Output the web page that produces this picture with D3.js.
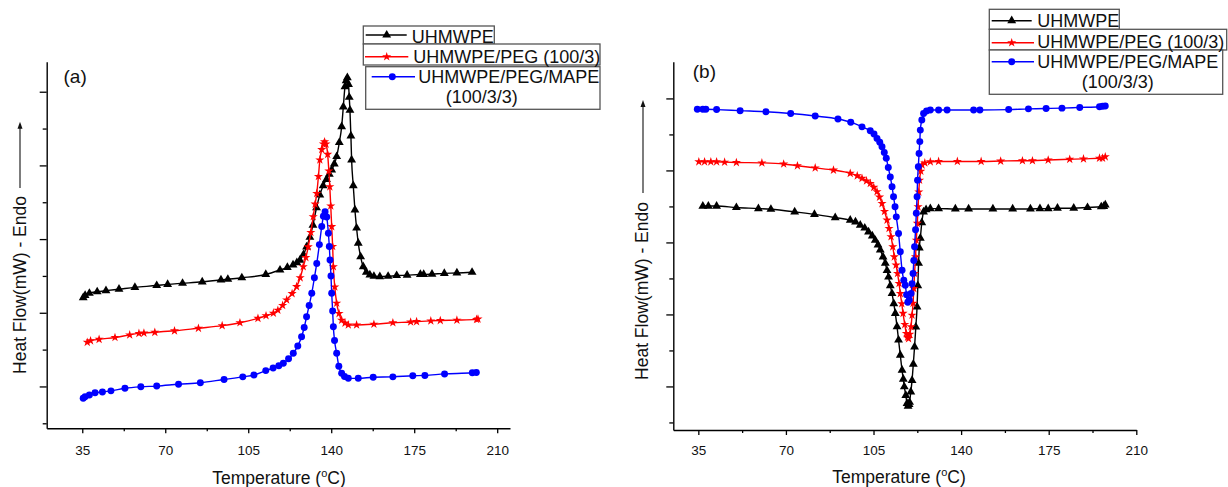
<!DOCTYPE html>
<html>
<head>
<meta charset="utf-8">
<script src="https://cdn.jsdelivr.net/npm/d3@7"></script>
<style>
  body { margin: 0; background: #fff; }
  text { font-family: Arial, "Liberation Sans", sans-serif; fill: #111; }
</style>
</head>
<body>
<svg id="fig" width="1228" height="487"></svg>
<script>
// ---- Data: DSC thermograms, [temperature (°C), heat flow (arb. units, endo up)] ----
const seriesLabels = ["UHMWPE", "UHMWPE/PEG (100/3)", "UHMWPE/PEG/MAPE", "(100/3/3)"];
const xTickValues = [35, 70, 105, 140, 175, 210];
const xMinorTicks = [52.5, 87.5, 122.5, 157.5, 192.5];
const yTickValues = [0, 1, 2, 3, 4, 5, 6, 7, 8, 9];

// (a) heating scans
const heatUhmwpe = [[35.4,3.41],[36.2,3.47],[38.0,3.53],[41.3,3.57],[45.0,3.60],[50.5,3.64],[57.2,3.69],[66.4,3.74],[71.0,3.77],[77.3,3.80],[85.6,3.84],[93.5,3.89],[96.4,3.91],[102.3,3.95],[112.4,4.04],[118.4,4.16],[121.5,4.23],[123.9,4.30],[125.5,4.36],[126.8,4.43],[128.3,4.58],[129.6,4.79],[131.0,5.05],[132.3,5.38],[133.8,5.85],[135.2,6.20],[136.6,6.45],[138.0,6.62],[139.2,6.76],[140.2,6.88],[141.3,7.04],[142.3,7.24],[143.4,7.62],[144.4,8.05],[145.1,8.59],[145.8,9.14],[146.3,9.30],[146.8,9.38],[147.3,9.20],[147.6,8.85],[147.9,8.50],[148.3,7.80],[148.6,7.15],[149.3,6.45],[150.0,5.79],[150.7,5.30],[151.4,4.89],[152.4,4.52],[153.5,4.25],[154.8,4.10],[156.3,4.03],[158.0,3.99],[160.5,3.98],[164.0,3.99],[167.6,4.01],[172.0,4.02],[177.6,4.04],[179.0,4.04],[182.5,4.05],[187.7,4.07],[193.0,4.08],[199.4,4.10]];
const heatPeg = [[37.1,2.20],[38.5,2.24],[42.1,2.28],[48.8,2.33],[55.0,2.40],[58.9,2.44],[61.0,2.45],[65.6,2.47],[73.9,2.51],[84.0,2.58],[94.0,2.65],[101.5,2.73],[109.1,2.85],[112.5,2.92],[115.6,2.99],[117.5,3.07],[119.5,3.20],[121.2,3.35],[123.5,3.52],[125.4,3.71],[126.9,3.95],[128.2,4.25],[129.3,4.50],[130.3,4.79],[131.4,5.18],[132.4,5.61],[133.2,5.95],[133.9,6.24],[134.6,6.70],[135.2,7.15],[136.0,7.43],[136.7,7.58],[137.2,7.64],[137.8,7.58],[138.5,7.30],[139.0,6.85],[139.4,6.42],[139.8,5.90],[140.2,5.34],[140.6,4.80],[140.9,4.25],[141.5,3.70],[142.3,3.26],[143.3,2.98],[144.4,2.80],[145.8,2.72],[147.2,2.67],[150.7,2.67],[158.0,2.69],[166.0,2.73],[173.5,2.75],[176.0,2.76],[182.0,2.78],[186.0,2.79],[193.0,2.80],[201.3,2.82],[201.9,2.83]];
const heatPegMape = [[35.4,0.68],[36.2,0.72],[38.0,0.77],[40.4,0.83],[43.5,0.85],[47.1,0.88],[53.0,0.95],[59.7,0.99],[66.4,1.01],[75.6,1.06],[84.8,1.10],[94.8,1.19],[102.7,1.26],[107.4,1.31],[112.4,1.43],[115.5,1.50],[117.9,1.56],[119.8,1.63],[122.0,1.75],[124.0,1.90],[125.9,2.10],[127.5,2.35],[128.6,2.60],[129.6,2.89],[130.7,3.20],[131.8,3.53],[132.9,3.95],[133.9,4.34],[135.0,4.85],[136.0,5.34],[136.7,5.62],[137.4,5.74],[138.1,5.60],[138.8,5.16],[139.2,4.80],[139.5,4.43],[139.9,4.00],[140.2,3.53],[140.6,3.05],[140.9,2.62],[141.4,2.25],[142.3,1.90],[143.2,1.55],[144.4,1.36],[145.6,1.27],[147.2,1.22],[151.4,1.22],[157.7,1.25],[166.0,1.26],[174.4,1.29],[179.5,1.30],[187.8,1.34],[199.5,1.37],[201.2,1.38]];

// (b) cooling scans
const coolUhmwpe = [[36.8,6.01],[39.0,6.01],[42.3,6.01],[50.2,5.97],[59.0,5.94],[64.0,5.92],[73.5,5.85],[81.4,5.78],[89.7,5.69],[95.7,5.62],[97.8,5.57],[99.7,5.48],[101.5,5.40],[103.0,5.29],[104.5,5.18],[105.7,5.06],[106.8,4.93],[107.7,4.79],[108.8,4.60],[109.7,4.42],[110.4,4.22],[111.0,4.04],[111.7,3.80],[112.4,3.58],[113.1,3.30],[113.7,3.03],[114.4,2.66],[115.0,2.29],[115.7,1.87],[116.4,1.45],[116.9,1.20],[117.3,0.99],[117.9,0.75],[118.4,0.53],[118.8,0.45],[119.2,0.50],[119.4,0.56],[119.9,0.85],[120.4,1.17],[120.9,1.62],[121.4,2.10],[121.9,2.65],[122.4,3.21],[122.7,3.80],[123.0,4.42],[123.3,4.85],[123.7,5.12],[124.3,5.55],[125.0,5.85],[126.0,5.91],[127.7,5.94],[131.0,5.94],[137.7,5.93],[143.0,5.93],[152.7,5.93],[160.6,5.93],[167.7,5.93],[171.5,5.94],[174.8,5.94],[178.5,5.95],[185.0,5.95],[190.5,5.97],[196.0,5.99],[197.0,6.00],[197.6,6.04]];
const coolPeg = [[35.2,7.24],[37.5,7.24],[40.0,7.24],[42.3,7.24],[45.5,7.23],[50.2,7.22],[60.4,7.21],[69.1,7.18],[74.6,7.13],[81.7,7.07],[89.0,7.01],[95.7,6.92],[98.5,6.85],[100.4,6.78],[102.2,6.71],[103.7,6.64],[105.1,6.53],[106.4,6.41],[107.4,6.26],[108.4,6.08],[109.4,5.86],[110.4,5.62],[111.2,5.39],[112.0,5.16],[112.7,4.88],[113.3,4.60],[114.0,4.37],[114.6,4.14],[115.2,3.86],[115.7,3.58],[116.3,3.30],[116.8,3.03],[117.5,2.72],[118.1,2.47],[118.6,2.37],[119.0,2.33],[119.5,2.45],[120.0,2.66],[120.4,2.98],[120.8,3.31],[121.1,3.72],[121.4,4.14],[121.8,4.60],[122.1,5.06],[122.5,5.53],[122.8,5.99],[123.1,6.40],[123.4,6.73],[123.9,6.98],[124.4,7.15],[125.5,7.21],[127.7,7.24],[131.0,7.25],[138.5,7.25],[148.0,7.25],[155.8,7.26],[164.5,7.27],[168.5,7.27],[174.8,7.29],[183.4,7.31],[188.9,7.32],[195.3,7.34],[196.5,7.34],[197.6,7.38]];
const coolPegMape = [[34.6,8.70],[36.8,8.70],[38.0,8.70],[42.3,8.69],[51.7,8.66],[62.0,8.63],[71.9,8.58],[81.7,8.51],[90.8,8.43],[95.9,8.34],[100.4,8.21],[103.7,8.10],[105.2,8.01],[106.4,7.89],[107.5,7.78],[108.4,7.66],[109.3,7.50],[110.1,7.34],[110.9,7.08],[111.7,6.82],[112.4,6.55],[113.0,6.27],[113.6,5.99],[114.1,5.71],[115.0,5.25],[115.7,4.74],[116.4,4.23],[117.1,3.95],[117.7,3.81],[118.2,3.55],[118.7,3.34],[119.3,3.40],[120.0,3.58],[120.4,3.85],[120.8,4.14],[121.1,4.50],[121.4,4.88],[121.8,5.35],[122.1,5.81],[122.4,6.27],[122.6,6.73],[122.9,7.10],[123.2,7.47],[123.5,7.80],[123.7,8.12],[124.3,8.40],[125.0,8.58],[126.2,8.65],[127.7,8.68],[131.0,8.68],[134.4,8.68],[145.0,8.68],[147.5,8.68],[159.0,8.69],[166.9,8.71],[173.96,8.72],[180.3,8.73],[187.4,8.75],[195.3,8.77],[196.5,8.78],[197.6,8.79]];

// ---- Styling ----
const seriesColors = ["#000000", "#ff0000", "#0000ff"];
const markerShapes = [d3.symbolTriangle, d3.symbolStar, d3.symbolCircle];
const markerSizes = [34, 26, 38];

const svg = d3.select("#fig");

function drawMarker(g, shapeIdx, cx, cy) {
  g.append("path")
    .attr("d", d3.symbol().type(markerShapes[shapeIdx]).size(markerSizes[shapeIdx])())
    .attr("transform", `translate(${cx},${cy})`)
    .attr("fill", seriesColors[shapeIdx])
    .attr("stroke", "none");
}

function drawPanel(p) {
  const g = svg.append("g");
  const x = d3.scaleLinear().domain(p.xDomain).range(p.xRange);
  const y = d3.scaleLinear().domain(p.yDomain).range(p.yRange);

  // series lines + markers
  const line = d3.line().x(d => x(d[0])).y(d => y(d[1])).curve(d3.curveMonotoneX);
  p.series.forEach((s, i) => {
    g.append("path").datum(s)
      .attr("d", line)
      .attr("fill", "none")
      .attr("stroke", seriesColors[i])
      .attr("stroke-width", 1.4);
    const sym = d3.symbol().type(markerShapes[i]).size(markerSizes[i]);
    g.append("g").selectAll("path").data(s).join("path")
      .attr("d", sym)
      .attr("transform", d => `translate(${x(d[0])},${y(d[1])})`)
      .attr("fill", seriesColors[i])
      .attr("stroke", "none");
  });

  // x axis (major + minor ticks)
  const xAxis = g.append("g")
    .attr("transform", `translate(0,${p.yRange[0]})`)
    .call(d3.axisBottom(x).tickValues(xTickValues).tickSize(5).tickSizeOuter(0).tickPadding(p.xLabelPad));
  xAxis.select(".domain").attr("stroke-width", 1.4);
  xAxis.selectAll(".tick line").attr("stroke-width", 1.3);
  xAxis.selectAll(".tick text").style("font-size", "13.5px").attr("fill", "#111");
  g.append("g")
    .attr("transform", `translate(0,${p.yRange[0]})`)
    .call(d3.axisBottom(x).tickValues(xMinorTicks).tickSize(3).tickSizeOuter(0).tickFormat(""))
    .call(a => a.select(".domain").remove())
    .selectAll(".tick line").attr("stroke-width", 1.3);

  // y axis (unlabelled, alternating major/minor ticks)
  const yAxis = g.append("g")
    .attr("transform", `translate(${p.xRange[0]},0)`)
    .call(d3.axisLeft(y).tickValues(yTickValues.filter(v => v % 2 === 1)).tickSize(7).tickSizeOuter(0).tickFormat(""));
  yAxis.select(".domain").attr("stroke-width", 1.4);
  yAxis.selectAll(".tick line").attr("stroke-width", 1.3);
  g.append("g")
    .attr("transform", `translate(${p.xRange[0]},0)`)
    .call(d3.axisLeft(y).tickValues(yTickValues.filter(v => v % 2 === 0)).tickSize(4).tickSizeOuter(0).tickFormat(""))
    .call(a => a.select(".domain").remove())
    .selectAll(".tick line").attr("stroke-width", 1.3);

  // x title with superscript degree
  const xt = g.append("text")
    .attr("x", p.xTitle[0]).attr("y", p.xTitle[1])
    .attr("text-anchor", "middle").style("font-size", "17.5px");
  xt.append("tspan").text("Temperature (");
  xt.append("tspan").text("o").style("font-size", "11px").attr("dy", -7);
  xt.append("tspan").text("C)").attr("dy", 7);

  // y title with upward arrow
  g.append("text")
    .attr("transform", `translate(${p.yTitle[0]},${p.yTitle[1]}) rotate(-90)`)
    .attr("text-anchor", "middle").style("font-size", "17.5px")
    .text("Heat Flow(mW) - Endo");
  g.append("line")
    .attr("x1", p.arrow[0]).attr("x2", p.arrow[0])
    .attr("y1", p.arrow[1]).attr("y2", p.arrow[2] + 5)
    .attr("stroke", "#111").attr("stroke-width", 1.1);
  g.append("path")
    .attr("d", `M${p.arrow[0]},${p.arrow[2]} l-2.5,7 l5,0 z`)
    .attr("fill", "#111");

  // panel tag
  g.append("text").attr("x", p.tag[0]).attr("y", p.tag[1])
    .style("font-size", "19px").text(p.tagText);

  // legend: three stacked boxes
  const L = p.legend;
  L.boxes.forEach(b => {
    g.append("rect").attr("x", b[0]).attr("y", b[1]).attr("width", b[2]).attr("height", b[3])
      .attr("fill", "#fff").attr("stroke", "#555").attr("stroke-width", 1.3);
  });
  L.rows.forEach((r, i) => {
    g.append("line").attr("x1", r.line[0]).attr("x2", r.line[1]).attr("y1", r.line[2]).attr("y2", r.line[2])
      .attr("stroke", seriesColors[i]).attr("stroke-width", 1.4);
    drawMarker(g, i, r.mark, r.line[2]);
    g.append("text").attr("x", r.text[0]).attr("y", r.text[1]).style("font-size", "18px").text(seriesLabels[i]);
  });
  g.append("text").attr("x", L.extra[0]).attr("y", L.extra[1]).style("font-size", "18px").text(seriesLabels[3]);
}

drawPanel({
  xDomain: [20, 215.4], xRange: [46.7, 510],
  yDomain: [-0.136, 9.815], yRange: [428.3, 61.7],
  series: [heatUhmwpe, heatPeg, heatPegMape],
  xLabelPad: 12, xTitle: [279, 484],
  yTitle: [26, 285], arrow: [20, 188, 121.7],
  tag: [63.5, 83], tagText: "(a)",
  legend: {
    boxes: [[363.3, 26, 131, 18], [363.3, 44, 236.7, 21], [365.7, 66.7, 234.3, 42.6]],
    rows: [
      { line: [365.7, 406.7, 35], mark: 386.7, text: [411.7, 42.7] },
      { line: [365, 408.3, 56.7], mark: 386.7, text: [413.3, 62.7] },
      { line: [371.7, 415, 76.7], mark: 392.3, text: [418.3, 83.3] }
    ],
    extra: [445.7, 103.3]
  }
});

drawPanel({
  xDomain: [25, 210], xRange: [673.3, 1136.3],
  yDomain: [-0.21, 10.02], yRange: [430, 61.7],
  series: [coolUhmwpe, coolPeg, coolPegMape],
  xLabelPad: 10, xTitle: [899, 483],
  yTitle: [648, 291], arrow: [643, 193, 100],
  tag: [692.8, 78], tagText: "(b)",
  legend: {
    boxes: [[989.3, 9.3, 130, 20], [989.3, 29.3, 237.4, 20.7], [989.3, 50, 233.4, 44.3]],
    rows: [
      { line: [991.7, 1031.7, 20.7], mark: 1011.7, text: [1037.3, 26.7] },
      { line: [991.7, 1034, 42.7], mark: 1011.7, text: [1037.3, 47.7] },
      { line: [991.7, 1034, 61.7], mark: 1011.7, text: [1037.3, 68.3] }
    ],
    extra: [1081.7, 88.3]
  }
});
</script>
</body>
</html>
